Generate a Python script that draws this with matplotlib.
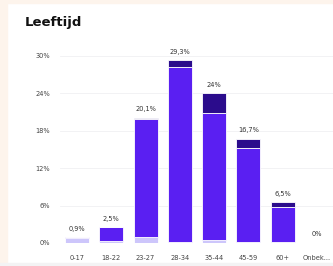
import matplotlib.pyplot as plt
import matplotlib.patches as mpatches
import numpy as np

categories = ["0-17", "18-22", "23-27", "28-34", "35-44", "45-59", "60+", "Onbek..."]
light = [0.75, 0.3, 1.0, 0.2, 0.5, 0.2, 0.2, 0.0]
mid = [0.15, 2.2, 18.9, 28.1, 20.4, 15.1, 5.6, 0.0]
dark = [0.0, 0.0, 0.2, 1.0, 3.1, 1.4, 0.7, 0.0]
totals = ["0,9%", "2,5%", "20,1%", "29,3%", "24%", "16,7%", "6,5%", "0%"]
yticks = [0, 6, 12, 18, 24, 30]

fig = plt.figure(figsize=(3.33, 2.66), dpi=100)
fig.patch.set_facecolor("white")
# peach page border and grey strip at the bottom
fig.add_artist(mpatches.Rectangle((0, 0), 0.02, 1, color="#fdf4ec", transform=fig.transFigure, zorder=-5))
fig.add_artist(mpatches.Rectangle((0, 0.99), 1, 0.01, color="#fdf4ec", transform=fig.transFigure, zorder=-5))
fig.add_artist(mpatches.Rectangle((0, 0), 1, 0.012, color="#f3f3f4", transform=fig.transFigure, zorder=-5))

ax = fig.add_axes([0.18, 0.0865, 0.823, 0.703])
x = np.arange(len(categories))
w = 0.7
ec = dict(edgecolor="white", linewidth=0.6)
ax.bar(x, light, w, color="#cdc6fb", **ec)
ax.bar(x, mid, w, bottom=light, color="#5a1ff2", **ec)
ax.bar(x, dark, w, bottom=np.array(light) + np.array(mid), color="#2b0c8c", **ec)

tot = np.array(light) + np.array(mid) + np.array(dark)
for xi, t, lbl in zip(x, tot, totals):
    ax.text(xi, t + 0.9, lbl, ha="center", va="bottom", fontsize=4.8, color="#333333")

ax.set_xlim(-0.5, len(categories) - 0.5)
ax.set_ylim(0, 30)
ax.set_yticks(yticks)
ax.set_yticklabels([f"{v}%" for v in yticks], fontsize=4.8, color="#444444")
ax.set_xticks(x)
ax.set_xticklabels(categories, fontsize=4.8, color="#444444")
ax.tick_params(axis="y", length=0, pad=7)
ax.tick_params(axis="x", length=0, pad=9)
ax.grid(axis="y", color="#f0f0f3", linewidth=0.6)
ax.set_axisbelow(True)
for s in ax.spines.values():
    s.set_visible(False)

fig.text(0.075, 0.915, "Leeftijd", fontsize=9.5, fontweight="bold", color="#111111", va="center")

fig.savefig("out.png", dpi=100)
